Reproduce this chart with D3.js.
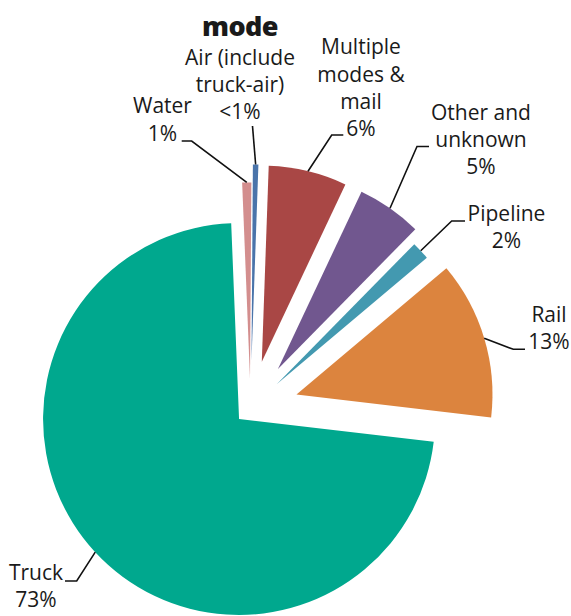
<!DOCTYPE html>
<html>
<head>
<meta charset="utf-8">
<script src="https://cdn.jsdelivr.net/npm/d3@7"></script>
<style>
  html, body { margin: 0; padding: 0; background: #fff; }
  svg { display: block; }
  text { font-family: "Open Sans", "Noto Sans", sans-serif; fill: #1a1a1a; }
</style>
</head>
<body>
<svg id="chart" width="571" height="616"></svg>
<script>
// ---- data ----
const title = "mode";
const categories = ["Air (include truck-air)", "Multiple modes & mail", "Other and unknown", "Pipeline", "Rail", "Truck", "Water"];
const categoryLines = [["Air (include", "truck-air)"], ["Multiple", "modes &", "mail"], ["Other and", "unknown"], ["Pipeline"], ["Rail"], ["Truck"], ["Water"]];
const shares = [0.45, 6.45, 5.35, 1.5, 13.0, 72.5, 0.75];
const pctLabels = ["<1%", "6%", "5%", "2%", "13%", "73%", "1%"];

// ---- style / layout ----
const colors = ["#4a74aa", "#a94745", "#71578f", "#4399b0", "#dc843e", "#00a88e", "#d38e8e"];
const explode = [48, 48, 48, 36, 48, 15.6, 30];
// label anchor: [centerX, firstBaseline], leader: elbow & end points
const labelPos = [[240, 65], [361, 54.3], [481, 119.5], [506.5, 220.7], [549, 321.7], [36, 580], [162.5, 113.3]];
const leaderPts = [
  [[252.5, 126]],
  [[331.7, 135], [343.3, 135]],
  [[417, 146.5], [429, 146.5]],
  [[451.7, 221], [465, 221]],
  [[513.3, 349.3], [525, 349.3]],
  [[76.7, 581], [65, 581]],
  [[191.7, 141], [181.7, 141]]
];
const lineH = 27.2;
const fontSize = 21;

const svg = d3.select("#chart");
const cx = 250.5, cy = 408.4, R = 196;
const rot = 0.4 * Math.PI / 180;

const pie = d3.pie().sort(null).value(d => d)
  .startAngle(rot).endAngle(rot + 2 * Math.PI);
const arcs = pie(shares);
const arc = d3.arc().innerRadius(0).outerRadius(R);

const g = svg.append("g").attr("transform", `translate(${cx},${cy})`);

arcs.forEach((a, i) => {
  const mid = (a.startAngle + a.endAngle) / 2;
  const dx = explode[i] * Math.sin(mid), dy = -explode[i] * Math.cos(mid);
  g.append("path")
    .attr("d", arc(a))
    .attr("transform", `translate(${dx},${dy})`)
    .attr("fill", colors[i]);
});

// leader lines
arcs.forEach((a, i) => {
  const mid = (a.startAngle + a.endAngle) / 2;
  const r = explode[i] + R;
  const sx = cx + r * Math.sin(mid), sy = cy - r * Math.cos(mid);
  const pts = [[sx, sy]].concat(leaderPts[i]);
  svg.append("path")
    .attr("d", d3.line()(pts))
    .attr("fill", "none")
    .attr("stroke", "#111")
    .attr("stroke-width", 1.6);
});

// labels
categoryLines.forEach((lines, i) => {
  const all = lines.concat([pctLabels[i]]);
  const t = svg.append("text")
    .attr("text-anchor", "middle")
    .attr("font-size", fontSize);
  all.forEach((s, k) => {
    t.append("tspan")
      .attr("x", labelPos[i][0])
      .attr("y", labelPos[i][1] + k * lineH)
      .text(s);
  });
});

// title
svg.append("text")
  .attr("x", 240).attr("y", 36)
  .attr("text-anchor", "middle")
  .attr("font-size", 27)
  .attr("font-weight", 800)
  .attr("letter-spacing", -0.6)
  .text(title);
</script>
</body>
</html>
